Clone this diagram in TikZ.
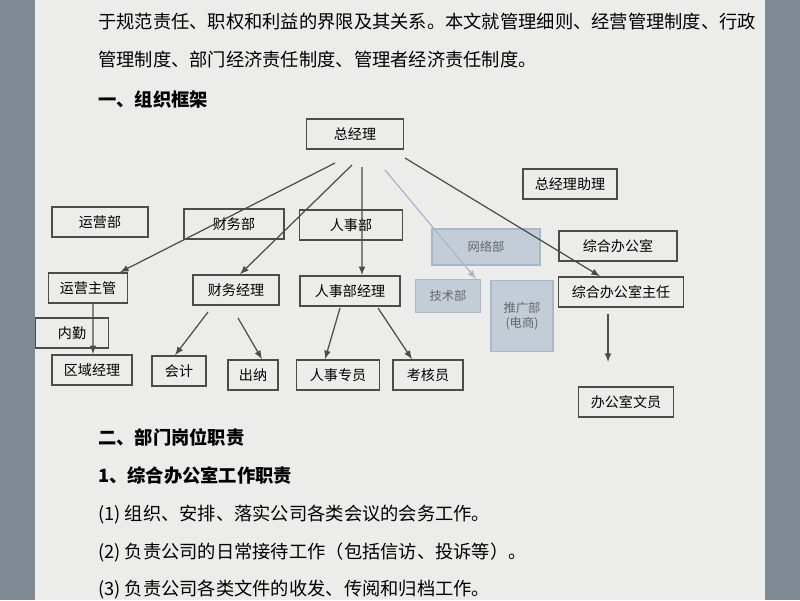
\documentclass[tikz,border=0pt]{standalone}
\usepackage{fontspec}
\setmainfont{Noto Sans CJK SC}
\definecolor{pagebg}{HTML}{ECECEA}
\definecolor{wallbg}{HTML}{7F8A94}
\definecolor{netfill}{HTML}{C3CDD8}
\definecolor{netline}{HTML}{A9B8C8}
\tikzset{
  box/.style={draw=black!70, line width=.9pt, minimum height=.6cm, inner xsep=2pt, font=\fontsize{8}{9}\selectfont},
  netbox/.style={draw=netline, fill=netfill, line width=.6pt, font=\fontsize{7}{8}\selectfont\color{black!60}},
  txt/.style={anchor=west, font=\fontsize{10.4}{13}\selectfont},
  link/.style={->, >=latex, line width=.7pt, draw=black!70}
}
\begin{document}
\begin{tikzpicture}[x=.02cm, y=-.02cm]
\useasboundingbox (0,0) rectangle (800,600);
\fill[wallbg] (0,0) rectangle (800,600);
\fill[pagebg] (35,0) rectangle (765,600);

% page text
\node[txt] at (92,22) {于规范责任、职权和利益的界限及其关系。本文就管理细则、经营管理制度、行政};
\node[txt] at (92,60) {管理制度、部门经济责任制度、管理者经济责任制度。};
\node[txt] at (92,100) {\bfseries 一、组织框架};
\node[txt] at (92,437) {\bfseries 二、部门岗位职责};
\node[txt] at (92,475) {\bfseries 1、综合办公室工作职责};
\node[txt] at (92,515) {(1)\ 组织、安排、落实公司各类会议的会务工作。};
\node[txt] at (92,552) {(2)\ 负责公司的日常接待工作（包括信访、投诉等）。};
\node[txt] at (92,590) {(3)\ 负责公司各类文件的收发、传阅和归档工作。};

% boxes
\node[box, minimum width=1.94cm] (gm) at (355,134) {总经理};
\node[box, minimum width=1.92cm] (yyb) at (100,222) {运营部};
\node[box, minimum width=2cm] (cwb) at (234,224) {财务部};
\node[box, minimum width=2.06cm] (rsb) at (351,225) {人事部};
\node[box, minimum width=1.58cm] (yyzg) at (88,288) {运营主管};
\node[box, minimum width=1.72cm] (cwjl) at (236,290) {财务经理};
\node[box, minimum width=2cm] (rsjl) at (350,291) {人事部经理};
\node[box, minimum width=1.46cm] (nq) at (72,333) {内勤};
\node[box, minimum width=1.6cm] (qyjl) at (92,370) {区域经理};
\node[box, minimum width=1.08cm] (kj) at (179,371) {会计};
\node[box, minimum width=1cm] (cn) at (253,375) {出纳};
\node[box, minimum width=1.66cm] (rszy) at (338,375) {人事专员};
\node[box, minimum width=1.4cm] (khy) at (428,375) {考核员};
\node[box, minimum width=1.88cm] (gmzl) at (570,184) {总经理助理};
\node[netbox, minimum width=2.16cm, minimum height=.72cm] (wlb) at (486,247) {网络部};
\node[box, minimum width=2.36cm] (zhb) at (618,246) {综合办公室};
\node[netbox, minimum width=1.3cm, minimum height=.66cm] (jsb) at (448,296) {技术部};
\node[netbox, minimum width=1.24cm, minimum height=1.42cm, align=center, anchor=north] (tgb) at (522,280) {推广部\\(电商)};
\node[box, minimum width=2.5cm] (zhzr) at (621,292) {综合办公室主任};
\node[box, minimum width=1.9cm] (wy) at (626,402) {办公室文员};

% free tails of the links
\coordinate (t1) at (335,163);
\coordinate (t2) at (352,165);
\coordinate (t3) at (362,167);
\coordinate (t4) at (385,170);
\coordinate (t5) at (405,158);
\coordinate (t6) at (208,312);
\coordinate (t7) at (238,318);
\coordinate (t8) at (340,308);
\coordinate (t9) at (378,308);
\coordinate (t10) at (608,314);
\coordinate (h10) at (608,362);

% links
\draw[link] (t1) -- ([xshift=.64cm]yyzg.north);
\draw[link] (t2) -- ([xshift=.08cm]cwjl.north);
\draw[link] (t3) -- ([xshift=.24cm]rsjl.north);
\draw[link, draw=netline] (t4) -- ([xshift=.56cm]jsb.north);
\draw[link] (t5) -- ([xshift=-.42cm]zhzr.north);
\draw[link] ([xshift=.1cm]yyzg.south) -- ([xshift=.02cm]qyjl.north);
\draw[link] (t6) -- ([xshift=-.08cm]kj.north);
\draw[link] (t7) -- ([xshift=.18cm]cn.north);
\draw[link] (t8) -- ([xshift=-.26cm]rszy.north);
\draw[link] (t9) -- ([xshift=-.32cm]khy.north);
\draw[link] (t10) -- (h10);
\end{tikzpicture}
\end{document}
